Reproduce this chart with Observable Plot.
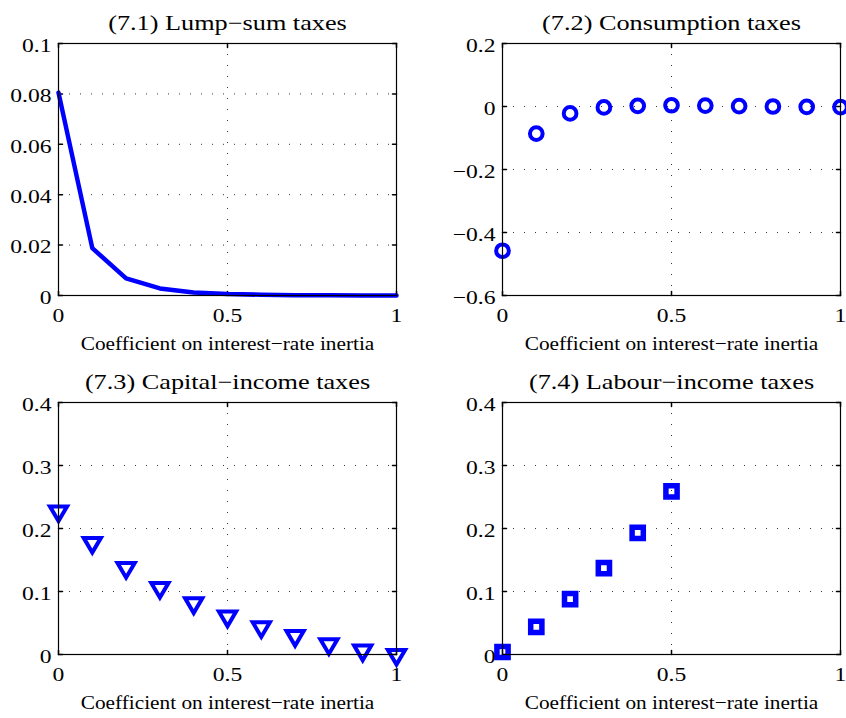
<!DOCTYPE html>
<html>
<head>
<meta charset="utf-8">
<script src="https://cdn.jsdelivr.net/npm/d3@7"></script>
<script src="https://cdn.jsdelivr.net/npm/@observablehq/plot@0.6"></script>
<style>
  html, body { margin: 0; padding: 0; background: white; }
  #fig { position: relative; width: 846px; height: 718px; background: white; overflow: hidden; }
  #fig > div { position: absolute; }
</style>
</head>
<body>
<div id="fig"></div>
<script>
// ---- data ----
const inertia = [0, 0.1, 0.2, 0.3, 0.4, 0.5, 0.6, 0.7, 0.8, 0.9, 1.0];
const lumpSum = [0.0805, 0.0188, 0.0068, 0.0028, 0.0012, 0.0006, 0.0003, 0.0001, 0.0001, 0.0000, 0.0000];
const consumption = [-0.458, -0.086, -0.022, -0.003, 0.002, 0.004, 0.003, 0.001, 0.000, -0.001, -0.002];
const capitalIncome = [0.224, 0.174, 0.134, 0.1025, 0.078, 0.057, 0.040, 0.026, 0.013, 0.003, -0.004];
const labourIncome = [0.004, 0.044, 0.088, 0.137, 0.193, 0.259];

const titles = ["(7.1) Lump\u2212sum taxes", "(7.2) Consumption taxes", "(7.3) Capital\u2212income taxes", "(7.4) Labour\u2212income taxes"];
const xLabel = "Coefficient on interest\u2212rate inertia";
const xTicks = [0, 0.5, 1];
const xTickLabels = ["0", "0.5", "1"];
const yTicks1 = [0, 0.02, 0.04, 0.06, 0.08, 0.1];
const yTickLabels1 = ["0", "0.02", "0.04", "0.06", "0.08", "0.1"];
const yTicks2 = [-0.6, -0.4, -0.2, 0, 0.2];
const yTickLabels2 = ["\u22120.6", "\u22120.4", "\u22120.2", "0", "0.2"];
const yTicks34 = [0, 0.1, 0.2, 0.3, 0.4];
const yTickLabels34 = ["0", "0.1", "0.2", "0.3", "0.4"];

const BLUE = "#0000ff";
const FONT = "Liberation Serif";

const tickShape = { draw(ctx, l) { ctx.moveTo(0, 0); ctx.lineTo(0, -l); } };
const triDown = { draw(ctx) { ctx.moveTo(-8.6, -7.0); ctx.lineTo(8.6, -7.0); ctx.lineTo(0, 7.6); ctx.closePath(); } };
const square = { draw(ctx) { ctx.moveTo(-5.6, -5.6); ctx.lineTo(5.6, -5.6); ctx.lineTo(5.6, 5.6); ctx.lineTo(-5.6, 5.6); ctx.closePath(); } };

function panel({title, yDomain, yTicks, yTickLabels, dataMarks, ml, mr}) {
  const gridStyle = {stroke: "#222", strokeOpacity: 0.9, strokeWidth: 1, strokeDasharray: "1,10"};
  const innerX = xTicks.filter(v => v > xTicks[0] && v < xTicks[xTicks.length - 1]);
  const innerY = yTicks.filter(v => v > yDomain[0] && v < yDomain[1]);
  return Plot.plot({
    width: 423, height: 359,
    marginLeft: ml, marginRight: mr, marginTop: 43, marginBottom: 64,
    style: {background: "transparent", overflow: "visible"},
    x: {domain: [0, 1], axis: null},
    y: {domain: yDomain, axis: null},
    marks: [
      Plot.gridX(innerX, gridStyle),
      Plot.gridY(innerY, gridStyle),
      Plot.vector(xTicks, {x: d => d, frameAnchor: "bottom", rotate: 0, length: 4, anchor: "start", shape: tickShape, stroke: "black"}),
      Plot.vector(xTicks, {x: d => d, frameAnchor: "top", rotate: 180, length: 4, anchor: "start", shape: tickShape, stroke: "black"}),
      Plot.vector(yTicks, {y: d => d, frameAnchor: "left", rotate: 90, length: 4, anchor: "start", shape: tickShape, stroke: "black"}),
      Plot.vector(yTicks, {y: d => d, frameAnchor: "right", rotate: -90, length: 4, anchor: "start", shape: tickShape, stroke: "black"}),
      ...dataMarks,
      Plot.frame({stroke: "black", strokeWidth: 1.2}),
      Plot.axisX(xTicks, {tickSize: 0, tickPadding: 13, tickFormat: (d, i) => xTickLabels[i], fill: "black", fontSize: 19.5, fontFamily: FONT, fontVariant: "normal"}),
      Plot.axisY(yTicks, {tickSize: 0, tickPadding: 7, tickFormat: (d, i) => yTickLabels[i], fill: "black", fontSize: 19.5, fontFamily: FONT, fontVariant: "normal", dy: 2}),
      Plot.text([title], {frameAnchor: "top", lineAnchor: "bottom", dy: -14, text: d => d, fontSize: 21, fontFamily: FONT, fill: "black"}),
      Plot.text([xLabel], {frameAnchor: "bottom", lineAnchor: "bottom", dy: 54, text: d => d, fontSize: 19, fontFamily: FONT, fill: "black"})
    ]
  });
}

const p1 = panel({
  title: titles[0], yDomain: [0, 0.1], yTicks: yTicks1, yTickLabels: yTickLabels1, ml: 58, mr: 27,
  dataMarks: [Plot.line(inertia, {x: d => d, y: (d, i) => lumpSum[i], stroke: BLUE, strokeWidth: 4.5, strokeLinejoin: "round"})]
});
const p2 = panel({
  title: titles[1], yDomain: [-0.6, 0.2], yTicks: yTicks2, yTickLabels: yTickLabels2, ml: 79, mr: 6,
  dataMarks: [Plot.dot(inertia, {x: d => d, y: (d, i) => consumption[i], r: 6.35, stroke: BLUE, strokeWidth: 4, fill: "none"})]
});
const p3 = panel({
  title: titles[2], yDomain: [0, 0.4], yTicks: yTicks34, yTickLabels: yTickLabels34, ml: 58, mr: 27,
  dataMarks: [Plot.dot(inertia, {x: d => d, y: (d, i) => capitalIncome[i], symbol: triDown, stroke: BLUE, strokeWidth: 4, fill: "none", strokeLinejoin: "miter"})]
});
const p4 = panel({
  title: titles[3], yDomain: [0, 0.4], yTicks: yTicks34, yTickLabels: yTickLabels34, ml: 79, mr: 6,
  dataMarks: [Plot.dot(inertia.slice(0, labourIncome.length), {x: d => d, y: (d, i) => labourIncome[i], symbol: square, stroke: BLUE, strokeWidth: 5.5, fill: "none", strokeLinejoin: "miter"})]
});

const fig = document.getElementById("fig");
[[p1, 0, 0], [p2, 423, 0], [p3, 0, 359], [p4, 423, 359]].forEach(([p, left, top]) => {
  const wrap = document.createElement("div");
  wrap.style.left = left + "px";
  wrap.style.top = top + "px";
  wrap.appendChild(p);
  fig.appendChild(wrap);
});

// The reference typeface is set wider than Liberation Serif: widen glyphs horizontally.
function widenText(t, k) {
  const len = t.getComputedTextLength();
  if (len > 0) {
    t.setAttribute("textLength", (len * k).toFixed(2));
    t.setAttribute("lengthAdjust", "spacingAndGlyphs");
  }
}
fig.querySelectorAll(`g[aria-label="x-axis tick label"] text, g[aria-label="y-axis tick label"] text`).forEach(t => widenText(t, 1.21));
fig.querySelectorAll("text").forEach(t => {
  const s = t.textContent;
  if (titles.includes(s)) widenText(t, 1.25);
  else if (s === xLabel) widenText(t, 1.12);
});
</script>
</body>
</html>
